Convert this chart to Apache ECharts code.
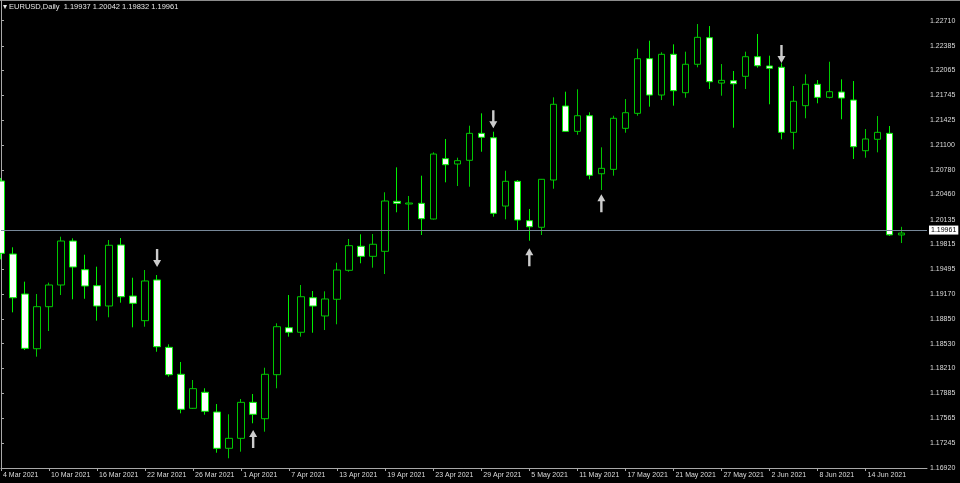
<!DOCTYPE html>
<html>
<head>
<meta charset="utf-8">
<script src="https://cdn.jsdelivr.net/npm/echarts@6/dist/echarts.min.js"></script>
<style>
html,body{margin:0;padding:0;background:#000;}
#chart{width:960px;height:483px;}
</style>
</head>
<body>
<div id="chart"></div>
<script>
const symbolName = 'EURUSD,Daily';
const dates = ['4 Mar 2021','5 Mar 2021','8 Mar 2021','9 Mar 2021','10 Mar 2021','11 Mar 2021','12 Mar 2021','15 Mar 2021','16 Mar 2021','17 Mar 2021','18 Mar 2021','19 Mar 2021','22 Mar 2021','23 Mar 2021','24 Mar 2021','25 Mar 2021','26 Mar 2021','29 Mar 2021','30 Mar 2021','31 Mar 2021','1 Apr 2021','2 Apr 2021','5 Apr 2021','6 Apr 2021','7 Apr 2021','8 Apr 2021','9 Apr 2021','12 Apr 2021','13 Apr 2021','14 Apr 2021','15 Apr 2021','16 Apr 2021','19 Apr 2021','20 Apr 2021','21 Apr 2021','22 Apr 2021','23 Apr 2021','26 Apr 2021','27 Apr 2021','28 Apr 2021','29 Apr 2021','30 Apr 2021','3 May 2021','4 May 2021','5 May 2021','6 May 2021','7 May 2021','10 May 2021','11 May 2021','12 May 2021','13 May 2021','14 May 2021','17 May 2021','18 May 2021','19 May 2021','20 May 2021','21 May 2021','24 May 2021','25 May 2021','26 May 2021','27 May 2021','28 May 2021','31 May 2021','1 Jun 2021','2 Jun 2021','3 Jun 2021','4 Jun 2021','7 Jun 2021','8 Jun 2021','9 Jun 2021','10 Jun 2021','11 Jun 2021','14 Jun 2021','15 Jun 2021','16 Jun 2021','17 Jun 2021'];

const openP = [1.20635,1.19690,1.19172,1.18464,1.19008,1.19289,1.19858,1.19487,1.19280,1.19017,
1.19807,1.19146,1.18827,1.19354,1.18482,1.18133,1.17693,1.17900,1.17645,1.17175,
1.17304,1.17770,1.17558,1.18128,1.18736,1.18677,1.19124,1.18888,1.19104,1.19479,
1.19790,1.19660,1.19725,1.20372,1.20337,1.20346,1.20143,1.20924,1.20855,1.20903,
1.21252,1.21195,1.20311,1.20631,1.20121,1.20036,1.20648,1.21606,1.21278,1.21480,
1.20729,1.20786,1.21317,1.21511,1.22218,1.21748,1.22275,1.21778,1.22146,1.22490,
1.21903,1.21933,1.21990,1.22244,1.22124,1.22107,1.21265,1.21610,1.21887,1.21718,
1.21787,1.21683,1.21027,1.21175,1.21252,1.19937];

const highP = [1.20674,1.19777,1.19332,1.19172,1.19319,1.19914,1.19893,1.19681,1.19526,1.19871,
1.19897,1.19383,1.19483,1.19418,1.18521,1.18292,1.18059,1.17952,1.17748,1.17615,
1.17813,1.17878,1.18218,1.18793,1.19159,1.19289,1.19211,1.19207,1.19577,1.19884,
1.19945,1.19949,1.20489,1.20812,1.20441,1.20704,1.21006,1.21179,1.20937,1.21351,
1.21511,1.21273,1.20768,1.20648,1.20273,1.20661,1.21718,1.21791,1.21822,1.21524,
1.21071,1.21480,1.21696,1.22347,1.22451,1.22301,1.22404,1.22309,1.22667,1.22641,
1.22149,1.22059,1.22309,1.22538,1.22257,1.22158,1.21865,1.22016,1.21942,1.22179,
1.21951,1.21929,1.21308,1.21476,1.21347,1.20042];

const lowP = [1.19621,1.18935,1.18447,1.18361,1.18693,1.19159,1.19104,1.19111,1.18827,1.18871,
1.19060,1.18741,1.18749,1.18425,1.18102,1.17628,1.17684,1.17610,1.17118,1.17046,
1.17131,1.17499,1.17390,1.17952,1.18620,1.18620,1.18671,1.18706,1.18780,1.19461,
1.19570,1.19513,1.19431,1.20230,1.19992,1.19936,1.20137,1.20618,1.20570,1.20561,
1.21014,1.20173,1.20139,1.20001,1.19862,1.19936,1.20535,1.21273,1.21234,1.20657,
1.20518,1.20704,1.21260,1.21480,1.21597,1.21683,1.21610,1.21713,1.22107,1.21826,
1.21739,1.21325,1.21826,1.22102,1.21628,1.21175,1.21045,1.21447,1.21641,1.21705,
1.21434,1.20920,1.20937,1.21006,1.19925,1.19832];

const closeP = [1.19699,1.19124,1.18469,1.19008,1.19289,1.19858,1.19522,1.19276,1.19017,1.19803,
1.19137,1.19052,1.19341,1.18490,1.18128,1.17680,1.17947,1.17654,1.17175,1.17304,
1.17770,1.17615,1.18133,1.18749,1.18677,1.19137,1.19017,1.19108,1.19483,1.19798,
1.19660,1.19816,1.20376,1.20346,1.20350,1.20147,1.20984,1.20846,1.20898,1.21252,
1.21201,1.20217,1.20631,1.20130,1.20043,1.20657,1.21628,1.21278,1.21480,1.20709,
1.20799,1.21447,1.21519,1.22218,1.21748,1.22275,1.21804,1.22146,1.22495,1.21920,
1.21938,1.21894,1.22244,1.22127,1.22094,1.21265,1.21667,1.21887,1.21718,1.21791,
1.21709,1.21079,1.21179,1.21265,1.19938,1.19961];

// fractal arrows (tip price)
const fractalDownIdx = [13, 41, 65];
const fractalDownPrice = [1.19522, 1.21317, 1.22162];
const fractalUpIdx = [21, 44, 50];
const fractalUpPrice = [1.17412, 1.19764, 1.20463];

const xTickLabels = ['4 Mar 2021','10 Mar 2021','16 Mar 2021','22 Mar 2021','26 Mar 2021','1 Apr 2021','7 Apr 2021','13 Apr 2021','19 Apr 2021','23 Apr 2021','29 Apr 2021','5 May 2021','11 May 2021','17 May 2021','21 May 2021','27 May 2021','2 Jun 2021','8 Jun 2021','14 Jun 2021'];
const yTickLabels = ['1.16920','1.17245','1.17565','1.17885','1.18210','1.18530','1.18850','1.19170','1.19495','1.19815','1.20135','1.20460','1.20780','1.21100','1.21425','1.21745','1.22065','1.22385','1.22710'];

const Y_MIN = 1.16920, Y_MAX = 1.22978;
const X_MIN = 0, X_MAX = 77.12;

const FONT = "'Liberation Sans Narrow','Liberation Sans',Arial,sans-serif";
const last = dates.length - 1;
const candles = dates.map((d, i) => [i, openP[i], closeP[i], lowP[i], highP[i]]);
const xTickValues = xTickLabels.map(l => dates.indexOf(l));
const yTickValues = yTickLabels.map(Number);

const downArrow = 'path://M2.8,0 L5.2,0 L5.2,11 L8,11 L4,18 L0,11 L2.8,11 Z';
const upArrow = 'path://M4,0 L8,7 L5.2,7 L5.2,18 L2.8,18 L2.8,7 L0,7 Z';

const chart = echarts.init(document.getElementById('chart'), null, {renderer: 'canvas'});
chart.setOption({
  animation: false,
  backgroundColor: '#000000',
  title: {
    text: '\u25BE ' + symbolName + '  ' + [openP[last], highP[last], lowP[last], closeP[last]].map(v => v.toFixed(5)).join(' '),
    left: 3, top: 3, padding: 0,
    textStyle: {color: '#e6e6e6', fontSize: 7.5, fontWeight: 'normal', fontFamily: FONT}
  },
  grid: {left: 0, right: 33, top: 0, bottom: 15, show: false},
  xAxis: {
    type: 'value', min: X_MIN, max: X_MAX, interval: 4,
    splitLine: {show: false},
    axisLine: {show: true, lineStyle: {color: '#a8a8a8', width: 1}},
    axisTick: {show: true, length: 3, lineStyle: {color: '#a8a8a8'}, customValues: xTickValues},
    axisLabel: {
      customValues: xTickValues,
      color: '#dcdcdc', fontSize: 7, fontFamily: FONT, align: 'left', margin: 4,
      padding: [0, 0, 0, 2], showMinLabel: true, showMaxLabel: true,
      formatter: v => dates[Math.round(v)] || ''
    }
  },
  yAxis: {
    type: 'value', position: 'right', min: Y_MIN, max: Y_MAX, scale: true,
    splitLine: {show: false},
    axisLine: {show: true, lineStyle: {color: '#a8a8a8', width: 1}},
    axisTick: {show: true, length: 3, lineStyle: {color: '#a8a8a8'}, customValues: yTickValues},
    axisLabel: {
      customValues: yTickValues,
      color: '#dcdcdc', fontSize: 7, fontFamily: FONT, margin: 3,
      showMinLabel: true, showMaxLabel: true,
      formatter: v => v.toFixed(5)
    }
  },
  graphic: [{
    type: 'line', shape: {x1: 0, y1: 0.5, x2: 960, y2: 0.5},
    style: {stroke: '#8c8c8c', lineWidth: 1}, silent: true
  }],
  series: [
    {
      type: 'candlestick',
      data: candles,
      encode: {x: 0, y: [1, 2, 3, 4]},
      barWidth: 7,
      silent: true,
      itemStyle: {
        color: '#000000', color0: '#ffffff',
        borderColor: '#00c800', borderColor0: '#00f000', borderWidth: 1
      },
      markLine: {
        silent: true,
        symbol: ['none', 'none'],
        lineStyle: {color: '#778899', width: 1, type: 'solid'},
        label: {
          show: true, position: 'end', distance: 2,
          formatter: () => closeP[last].toFixed(5),
          backgroundColor: '#ffffff', color: '#000000', fontSize: 7, fontFamily: FONT,
          padding: [1, 2, 1, 2]
        },
        data: [{yAxis: closeP[last]}]
      }
    },
    {
      type: 'scatter', silent: true,
      data: fractalDownIdx.map((x, k) => [x, fractalDownPrice[k]]),
      symbol: downArrow, symbolSize: [8, 18], symbolOffset: [0, '-50%'],
      itemStyle: {color: '#ffffff'}
    },
    {
      type: 'scatter', silent: true,
      data: fractalUpIdx.map((x, k) => [x, fractalUpPrice[k]]),
      symbol: upArrow, symbolSize: [8, 18], symbolOffset: [0, '50%'],
      itemStyle: {color: '#ffffff'}
    }
  ]
});
</script>
</body>
</html>
